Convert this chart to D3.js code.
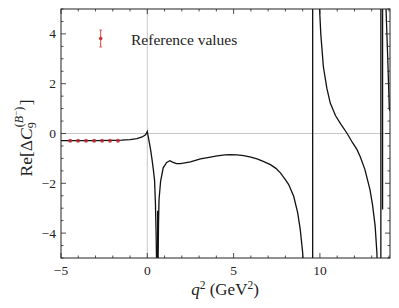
<!DOCTYPE html>
<html><head><meta charset="utf-8">
<script src="https://cdn.jsdelivr.net/npm/d3@7"></script>
<style>body{margin:0;background:#fff}svg{display:block}text{font-family:"Liberation Serif","DejaVu Serif",serif;fill:#222}</style>
</head><body><svg id="c" width="399" height="308"></svg>
<script>
// curve samples (q^2, Re value); null separates branches
const curveQ2 = [
 -5,-4,-3,-2,-1.5,-1,-0.6,-0.3,-0.1,0,0.04,0.1,0.19,0.27,0.35,0.42,0.47,0.51,0.545, null,
 0.6,0.6, null,
 0.62,0.65,0.68,0.77,0.92,1.12,1.31,1.46,1.69,1.92,2.5,3.08,3.66,4.05,4.5,4.82,5.2,5.58,6.0,6.36,6.75,7.13,7.45,7.71,8.0,8.19,8.48,8.71,8.86,9.0,9.06, null,
 9.58,9.58, null,
 9.95,9.98,10.05,10.2,10.4,10.6,10.9,11.2,11.56,11.9,12.15,12.33,12.6,12.9,13.05,13.2,13.3,13.33, null,
 13.53,13.53, null,
 13.63,13.63, null,
 13.8,13.83,13.93,14.02,14.06
];
const curveRe = [
 -0.29,-0.29,-0.285,-0.28,-0.27,-0.25,-0.21,-0.14,-0.05,0.08,-0.08,-0.3,-0.65,-1.03,-1.45,-1.88,-2.8,-4.0,-5.5, null,
 -3.1,-5.5, null,
 -5.5,-3.6,-2.65,-1.92,-1.38,-1.16,-1.09,-1.15,-1.21,-1.21,-1.14,-1.02,-0.95,-0.9,-0.86,-0.85,-0.86,-0.89,-0.95,-1.02,-1.13,-1.25,-1.4,-1.58,-1.85,-2.05,-2.52,-3.18,-3.85,-4.78,-5.5, null,
 -5.5,5.5, null,
 5.5,5.0,4.0,2.68,1.82,1.22,0.72,0.39,0.02,-0.38,-0.65,-0.92,-1.43,-2.25,-2.88,-3.72,-4.78,-5.5, null,
 -5.5,5.5, null,
 5.5,-3.05, null,
 5.5,5.0,3.0,1.0,0.9
];
// reference values
const refQ2 = [-4.47,-4.01,-3.55,-3.08,-2.62,-2.16,-1.70];
const refRe = [-0.29,-0.29,-0.29,-0.29,-0.29,-0.29,-0.29];
const xTicks = [-5,0,5,10];
const yTicks = [-4,-2,0,2,4];

const svg = d3.select("#c");
const L=61,R=390,T=9,B=258;
const x = d3.scaleLinear().domain([-5,14.06]).range([L,R]);
const y = d3.scaleLinear().domain([-5,5]).range([B,T]);

svg.append("clipPath").attr("id","clip").append("rect").attr("x",L).attr("y",T).attr("width",R-L).attr("height",B-T);

// reference lines
svg.append("line").attr("x1",L).attr("x2",R).attr("y1",y(0)).attr("y2",y(0)).attr("stroke","#c8c8c8").attr("stroke-width",1);
svg.append("line").attr("x1",x(0)).attr("x2",x(0)).attr("y1",T).attr("y2",B).attr("stroke","#c8c8c8").attr("stroke-width",1);

// curve
const pts = curveQ2.map((q,i)=> q===null?null:[q,curveRe[i]]);
const line = d3.line().defined(d=>d!==null).x(d=>x(d[0])).y(d=>y(d[1]));
svg.append("path").attr("clip-path","url(#clip)").attr("d",line(pts)).attr("fill","none").attr("stroke","#111").attr("stroke-width",1.3);

// reference points
svg.append("g").selectAll("circle").data(refQ2).join("circle")
 .attr("cx",d=>x(d)).attr("cy",(d,i)=>y(refRe[i])).attr("r",2).attr("fill","#b8262a").attr("opacity",0.85);

// axes
function axes(){
 const g = svg.append("g");
 const minorX = d3.range(-5,14.06,1), minorY = d3.range(-5,5.01,0.5);
 minorX.forEach(v=>{ if(xTicks.includes(v))return;
  g.append("line").attr("x1",x(v)).attr("x2",x(v)).attr("y1",B).attr("y2",B-2.5);
  g.append("line").attr("x1",x(v)).attr("x2",x(v)).attr("y1",T).attr("y2",T+2.5);});
 xTicks.forEach(v=>{
  g.append("line").attr("x1",x(v)).attr("x2",x(v)).attr("y1",B).attr("y2",B-5);
  g.append("line").attr("x1",x(v)).attr("x2",x(v)).attr("y1",T).attr("y2",T+5);
  svg.append("text").attr("x",x(v)).attr("y",275).attr("text-anchor","middle").attr("font-size",13.5)
   .text(v<0?"\u2212"+(-v):v);});
 minorY.forEach(v=>{ if(yTicks.includes(v))return;
  g.append("line").attr("y1",y(v)).attr("y2",y(v)).attr("x1",L).attr("x2",L+2.5);
  g.append("line").attr("y1",y(v)).attr("y2",y(v)).attr("x1",R).attr("x2",R-2.5);});
 yTicks.forEach(v=>{
  g.append("line").attr("y1",y(v)).attr("y2",y(v)).attr("x1",L).attr("x2",L+5);
  g.append("line").attr("y1",y(v)).attr("y2",y(v)).attr("x1",R).attr("x2",R-5);
  svg.append("text").attr("x",L-5).attr("y",y(v)+4.5).attr("text-anchor","end").attr("font-size",13.5)
   .text(v<0?"\u2212"+(-v):v);});
 g.selectAll("line").attr("stroke","#222").attr("stroke-width",0.8);
 svg.append("rect").attr("x",L).attr("y",T).attr("width",R-L).attr("height",B-T).attr("fill","none").attr("stroke","#222").attr("stroke-width",1);
}
axes();

// legend
svg.append("line").attr("x1",x(-2.7)).attr("x2",x(-2.7)).attr("y1",30).attr("y2",47).attr("stroke","#dd4444").attr("stroke-width",1);
svg.append("line").attr("x1",x(-2.7)-1.5).attr("x2",x(-2.7)+1.5).attr("y1",30).attr("y2",30).attr("stroke","#dd4444").attr("stroke-width",0.8);
svg.append("line").attr("x1",x(-2.7)-1.5).attr("x2",x(-2.7)+1.5).attr("y1",47).attr("y2",47).attr("stroke","#dd4444").attr("stroke-width",0.8);
svg.append("circle").attr("cx",x(-2.7)).attr("cy",38.5).attr("r",1.8).attr("fill","#cc3333");
svg.append("text").attr("x",131).attr("y",45).attr("font-size",15.5).text("Reference values");

// x label
const xl = svg.append("text").attr("x",225).attr("y",295).attr("text-anchor","middle").attr("font-size",17);
xl.append("tspan").attr("font-style","italic").text("q");
xl.append("tspan").attr("font-size",11.5).attr("dy",-6).text("2");
xl.append("tspan").attr("dy",6).text(" (GeV");
xl.append("tspan").attr("font-size",11.5).attr("dy",-6).text("2");
xl.append("tspan").attr("dy",6).text(")");

// y label
const yg = svg.append("g").attr("transform","translate(32,138) rotate(-90)");
const parts = [];
let cx=0;
function piece(txt,opts){
 const t = yg.append("text").attr("x",cx).attr("y",opts.dy||0).attr("font-size",opts.fs||17.5).text(txt);
 if(opts.it) t.attr("font-style","italic");
 const w = t.node().getComputedTextLength();
 parts.push(t);
 if(!opts.noadv) cx += w;
 return w;
}
piece("Re[\u0394",{});
piece("C",{it:1});
const c0 = cx;
piece("9",{fs:12,dy:4,noadv:1});
cx = c0+1;
piece("(",{fs:12,dy:-9});
piece("B",{fs:12,dy:-9,it:1});
piece("\u2212",{fs:9,dy:-13});
piece(")",{fs:12,dy:-9});
cx += 1.5;
piece("]",{});
const total = cx;
parts.forEach(t=>t.attr("x",+t.attr("x")-total/2));
</script></body></html>
